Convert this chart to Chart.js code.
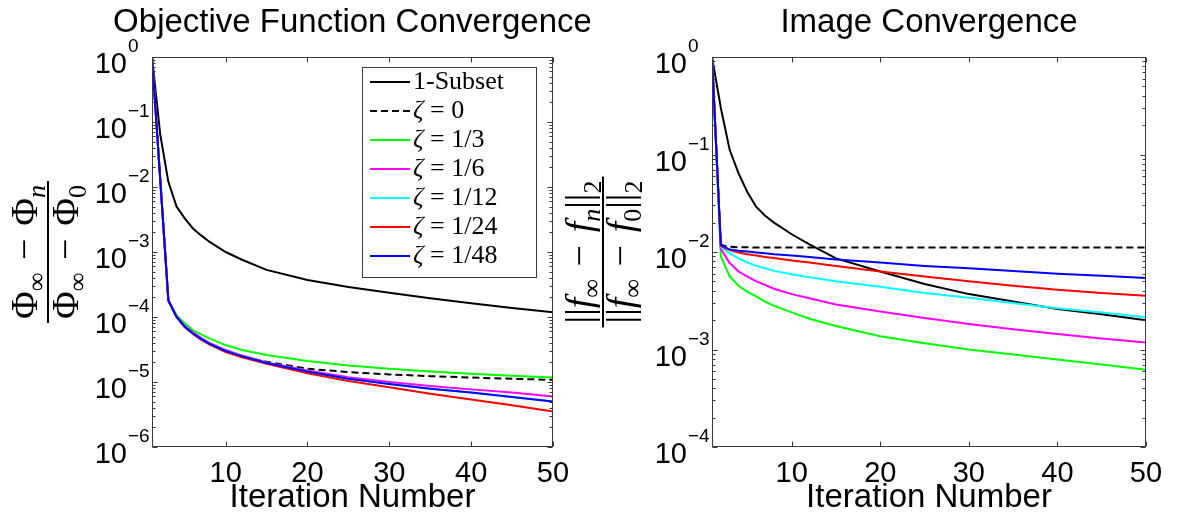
<!DOCTYPE html>
<html>
<head>
<meta charset="utf-8">
<script src="https://cdn.jsdelivr.net/npm/chart.js@4.4.1/dist/chart.umd.min.js"></script>
<style>
  html, body { margin: 0; padding: 0; background: #fff; }
  #wrap { position: relative; width: 1180px; height: 519px; overflow: hidden; }
  .pane { position: absolute; top: 0; height: 519px; }
</style>
</head>
<body>
<div id="wrap">
  <div class="pane" style="left:0;width:590px"><canvas id="objChart"></canvas></div>
  <div class="pane" style="left:555px;width:625px"><canvas id="imgChart"></canvas></div>
</div>
<script>
// ----- data -----
const iterations = [1, 2, 3, 4, 5, 6, 7, 8, 10, 12, 15, 20, 25, 30, 35, 40, 45, 50];
const xTickValues = [10, 20, 30, 40, 50];
const objYExponents = [0, -1, -2, -3, -4, -5, -6];
const imgYExponents = [0, -1, -2, -3, -4];
const seriesNames = ['1-Subset', 'ζ = 0', 'ζ = 1/3', 'ζ = 1/6', 'ζ = 1/12', 'ζ = 1/24', 'ζ = 1/48'];

// objective function convergence
const objSubset1 = [1, 0.065, 0.012, 0.005, 0.0033, 0.0023, 0.0018, 0.00144, 0.001, 0.00076, 0.00053, 0.00037, 0.00029, 0.000236, 0.000195, 0.000163, 0.000138, 0.000118];
const objZeta0   = [1, null, 1.8e-4, 1.0e-4, 7.1e-5, 5.6e-5, 4.6e-5, 3.9e-5, 3.0e-5, 2.45e-5, 2.05e-5, 1.6e-5, 1.42e-5, 1.31e-5, 1.23e-5, 1.17e-5, 1.12e-5, 1.08e-5];
const objZeta3   = [1, null, 1.8e-4, 1.07e-4, 8.0e-5, 6.3e-5, 5.4e-5, 4.7e-5, 3.7e-5, 3.1e-5, 2.6e-5, 2.1e-5, 1.8e-5, 1.6e-5, 1.45e-5, 1.34e-5, 1.25e-5, 1.17e-5];
const objZeta6   = [1, null, 1.8e-4, 1.02e-4, 7.3e-5, 5.8e-5, 4.8e-5, 4.0e-5, 3.1e-5, 2.55e-5, 2.0e-5, 1.5e-5, 1.18e-5, 1.0e-5, 8.7e-6, 7.7e-6, 6.9e-6, 6.0e-6];
const objZeta12  = [1, null, 1.8e-4, 1.0e-4, 7.1e-5, 5.6e-5, 4.6e-5, 3.9e-5, 3.0e-5, 2.5e-5, 1.96e-5, 1.45e-5, 1.12e-5, 9.3e-6, 7.9e-6, 6.9e-6, 5.9e-6, 5.0e-6];
const objZeta24  = [1, null, 1.8e-4, 1.0e-4, 7.0e-5, 5.5e-5, 4.5e-5, 3.8e-5, 2.9e-5, 2.4e-5, 1.9e-5, 1.36e-5, 1.04e-5, 8.3e-6, 6.6e-6, 5.4e-6, 4.4e-6, 3.5e-6];
const objZeta48  = [1, null, 1.8e-4, 1.0e-4, 7.1e-5, 5.6e-5, 4.6e-5, 3.9e-5, 3.0e-5, 2.5e-5, 1.96e-5, 1.45e-5, 1.12e-5, 9.3e-6, 7.9e-6, 6.9e-6, 5.9e-6, 5.0e-6];

// image convergence
const imgSubset1 = [1, 0.30, 0.111, 0.064, 0.041, 0.029, 0.0235, 0.020, 0.0152, 0.012, 0.0086, 0.0063, 0.0047, 0.0037, 0.0031, 0.0026, 0.0023, 0.0020];
const imgZeta0   = [1, 0.0118, 0.0113, 0.0112, 0.0112, 0.0111, 0.0111, 0.0111, 0.0111, 0.0111, 0.0111, 0.0111, 0.0111, 0.0111, 0.0111, 0.0111, 0.0111, 0.0111];
const imgZeta3   = [1, 0.0090, 0.0056, 0.0045, 0.0039, 0.0035, 0.0031, 0.0028, 0.0024, 0.00207, 0.00174, 0.00137, 0.00116, 0.00100, 0.00089, 0.00079, 0.00070, 0.00062];
const imgZeta6   = [1, 0.0107, 0.0077, 0.0063, 0.0056, 0.0050, 0.0046, 0.0042, 0.0037, 0.00335, 0.0029, 0.00245, 0.0021, 0.00183, 0.00161, 0.00144, 0.0013, 0.00118];
const imgZeta12  = [1, 0.0112, 0.0097, 0.0086, 0.0078, 0.0072, 0.0068, 0.0064, 0.0059, 0.0055, 0.0050, 0.0044, 0.0038, 0.0034, 0.0030, 0.00265, 0.0024, 0.00214];
const imgZeta24  = [1, 0.0115, 0.0105, 0.0099, 0.0095, 0.0092, 0.0089, 0.0087, 0.0082, 0.0078, 0.0072, 0.0063, 0.0056, 0.0050, 0.0045, 0.0041, 0.0038, 0.00355];
const imgZeta48  = [1, 0.0118, 0.0106, 0.0103, 0.0101, 0.0099, 0.0097, 0.0095, 0.0092, 0.0089, 0.0084, 0.0078, 0.0072, 0.0068, 0.0064, 0.0060, 0.0057, 0.0054];

// ----- styles -----
const SANS = '"Liberation Sans", Arial, sans-serif';
const SERIF = '"Liberation Serif", "DejaVu Serif", serif';
const seriesColors = ['#000000', '#000000', '#00ff00', '#ff00ff', '#00ffff', '#ff0000', '#0000ff'];
const AXIS_COLOR = '#3a3a3a';

function makeDatasets(seriesList) {
  return seriesList.map((vals, i) => ({
    label: seriesNames[i],
    data: iterations.map((it, k) => ({ x: it, y: vals[k] })),
    borderColor: seriesColors[i],
    borderWidth: 2,
    borderDash: i === 1 ? [7, 4] : [],
    pointRadius: 0,
    fill: false,
    tension: 0,
    spanGaps: true,
    order: seriesList.length - i // later series on top, like matlab
  }));
}

// draws a row of text pieces (font changes, sub/superscripts)
function runsWidth(ctx, runs) {
  let w = 0;
  runs.forEach(r => { ctx.font = r.f; w += ctx.measureText(r.t).width; });
  return w;
}
function drawRuns(ctx, runs, x, y) {
  let cx = x;
  runs.forEach(r => {
    ctx.font = r.f;
    ctx.fillText(r.t, cx, y + (r.dy || 0));
    cx += ctx.measureText(r.t).width;
  });
}

// matlab style frame: box, inward ticks, 10^n labels, title and fraction label
function framePlugin(cfg) {
  return {
    id: 'frame_' + cfg.key,
    afterDatasetsDraw(chart) {
      if (cfg.legend) drawLegend(chart);
    },
    afterDraw(chart) {
      const { ctx, chartArea: a, scales } = chart;
      const x = scales.x, y = scales.y;
      ctx.save();
      ctx.strokeStyle = AXIS_COLOR;
      ctx.lineWidth = 1;
      const L = Math.round(a.left) + 0.5, R = Math.round(a.right) - 0.5;
      const T = Math.round(a.top) + 0.5, B = Math.round(a.bottom) - 0.5;
      ctx.strokeRect(L, T, R - L, B - T);

      ctx.beginPath();
      xTickValues.forEach(v => {
        const px = Math.round(x.getPixelForValue(v)) + 0.5;
        ctx.moveTo(px, B); ctx.lineTo(px, B - 5);
        ctx.moveTo(px, T); ctx.lineTo(px, T + 5);
      });
      const exps = cfg.exps;
      for (let e = exps[exps.length - 1]; e <= 0; e++) {
        const py = Math.round(y.getPixelForValue(Math.pow(10, e))) + 0.5;
        ctx.moveTo(L, py); ctx.lineTo(L + 5, py);
        ctx.moveTo(R, py); ctx.lineTo(R - 5, py);
        if (e < 0) {
          for (let k = 2; k <= 9; k++) {
            const pm = Math.round(y.getPixelForValue(k * Math.pow(10, e))) + 0.5;
            ctx.moveTo(L, pm); ctx.lineTo(L + 3, pm);
            ctx.moveTo(R, pm); ctx.lineTo(R - 3, pm);
          }
        }
      }
      ctx.stroke();

      // y tick labels 10^n
      ctx.fillStyle = '#000';
      ctx.textBaseline = 'alphabetic';
      ctx.textAlign = 'left';
      exps.forEach(e => {
        const py = y.getPixelForValue(Math.pow(10, e));
        ctx.font = '29px ' + SANS;
        const w10 = ctx.measureText('10').width;
        const xr = a.left - 25;
        ctx.fillText('10', xr - w10, py + 16);
        ctx.font = '19px ' + SANS;
        ctx.fillText(e === 0 ? '0' : '\u2212' + (-e), xr + 1, py - 5);
      });

      // title
      ctx.font = '33px ' + SANS;
      ctx.textAlign = 'center';
      ctx.fillText(cfg.title, (a.left + a.right) / 2, 32);

      // rotated fraction label
      ctx.save();
      ctx.translate(cfg.fracX, (a.top + a.bottom) / 2);
      ctx.rotate(-Math.PI / 2);
      ctx.textAlign = 'left';
      const wn = runsWidth(ctx, cfg.num), wd = runsWidth(ctx, cfg.den);
      const bar = Math.max(wn, wd) + 8;
      drawRuns(ctx, cfg.num, -wn / 2, -11);
      drawRuns(ctx, cfg.den, -wd / 2, 30);
      ctx.fillRect(-bar / 2, -1, bar, 2);
      ctx.restore();
      ctx.restore();
    }
  };
}

function drawLegend(chart) {
  const ctx = chart.ctx;
  const bx = 362, by = 67, bw = 175, bh = 211;
  ctx.save();
  ctx.fillStyle = '#fff';
  ctx.fillRect(bx, by, bw, bh);
  ctx.strokeStyle = AXIS_COLOR;
  ctx.lineWidth = 1;
  ctx.strokeRect(bx + 0.5, by + 0.5, bw - 1, bh - 1);
  chart.data.datasets.forEach((ds, i) => {
    const yy = by + 15 + i * 29;
    ctx.beginPath();
    ctx.strokeStyle = ds.borderColor;
    ctx.lineWidth = 2;
    ctx.setLineDash(ds.borderDash);
    ctx.moveTo(bx + 8, yy); ctx.lineTo(bx + 48, yy);
    ctx.stroke();
    ctx.setLineDash([]);
    ctx.fillStyle = '#000';
    ctx.textBaseline = 'middle';
    const lbl = ds.label;
    if (lbl.startsWith('ζ')) {
      drawRuns(ctx, [{ t: 'ζ', f: 'italic 26px ' + SERIF }, { t: lbl.slice(1), f: '26px ' + SERIF }], bx + 51, yy);
    } else {
      drawRuns(ctx, [{ t: lbl, f: '26px ' + SERIF }], bx + 51, yy);
    }
  });
  ctx.restore();
}

function makeOptions(yMin, yWidth, padRight) {
  return {
    responsive: true,
    maintainAspectRatio: false,
    animation: false,
    devicePixelRatio: 1,
    layout: { padding: { top: 57, right: padRight, left: 0, bottom: 0 } },
    plugins: { legend: { display: false }, tooltip: { enabled: false }, title: { display: false } },
    scales: {
      x: {
        type: 'linear', min: 1, max: 50,
        afterBuildTicks: s => { s.ticks = xTickValues.map(v => ({ value: v })); },
        grid: { display: false, drawTicks: false },
        border: { display: false },
        ticks: { color: '#000', font: { family: SANS, size: 29 }, padding: 10, maxRotation: 0, autoSkip: false },
        title: { display: true, text: 'Iteration Number', color: '#000', font: { family: SANS, size: 33 }, padding: { top: 0, bottom: 1 } },
        afterFit: s => { s.height = 72; }
      },
      y: {
        type: 'logarithmic', min: yMin, max: 1,
        ticks: { display: false },
        grid: { display: false },
        border: { display: false },
        afterFit: s => { s.width = yWidth; }
      }
    }
  };
}

const S = 'px ' + SERIF;
const MINUS = '\u2004\u2212\u2004';
const objNum = [{ t: 'Φ', f: '38' + S }, { t: '∞', f: '26' + S, dy: 8 }, { t: MINUS, f: '38' + S }, { t: 'Φ', f: '38' + S }, { t: 'n', f: 'italic 26' + S, dy: 8 }];
const objDen = [{ t: 'Φ', f: '38' + S }, { t: '∞', f: '26' + S, dy: 8 }, { t: MINUS, f: '38' + S }, { t: 'Φ', f: '38' + S }, { t: '0', f: '26' + S, dy: 8 }];
const imgNum = [{ t: '||', f: '38' + S }, { t: 'f', f: 'italic 38' + S }, { t: '∞', f: '26' + S, dy: 8 }, { t: MINUS, f: '38' + S }, { t: 'f', f: 'italic 38' + S }, { t: 'n', f: 'italic 26' + S, dy: 8 }, { t: '||', f: '38' + S }, { t: '2', f: '26' + S, dy: 9 }];
const imgDen = [{ t: '||', f: '38' + S }, { t: 'f', f: 'italic 38' + S }, { t: '∞', f: '26' + S, dy: 8 }, { t: MINUS, f: '38' + S }, { t: 'f', f: 'italic 38' + S }, { t: '0', f: '26' + S, dy: 8 }, { t: '||', f: '38' + S }, { t: '2', f: '26' + S, dy: 9 }];

new Chart(document.getElementById('objChart'), {
  type: 'line',
  data: { datasets: makeDatasets([objSubset1, objZeta0, objZeta3, objZeta6, objZeta12, objZeta24, objZeta48]) },
  options: makeOptions(1e-6, 152, 37),
  plugins: [framePlugin({ key: 'obj', exps: objYExponents, title: 'Objective Function Convergence', fracX: 48, num: objNum, den: objDen, legend: true })]
});

new Chart(document.getElementById('imgChart'), {
  type: 'line',
  data: { datasets: makeDatasets([imgSubset1, imgZeta0, imgZeta3, imgZeta6, imgZeta12, imgZeta24, imgZeta48]) },
  options: makeOptions(1e-4, 157, 34),
  plugins: [framePlugin({ key: 'img', exps: imgYExponents, title: 'Image Convergence', fracX: 48, num: imgNum, den: imgDen, legend: false })]
});
</script>
</body>
</html>
